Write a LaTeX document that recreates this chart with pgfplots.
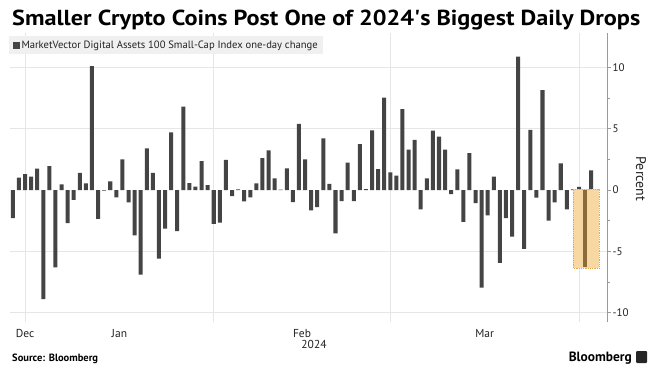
\documentclass[border=0pt]{standalone}
\usepackage{pgfplots}
\pgfplotsset{compat=1.18}
\usepackage{pgfplotstable}
\usepackage{fontspec}
\setmainfont{PT Sans}
\definecolor{barc}{HTML}{444444}
\definecolor{gridc}{HTML}{E6E6E6}
\definecolor{axisc}{HTML}{9A9A9A}
\definecolor{boxfill}{HTML}{F7D8A2}
\definecolor{boxdraw}{HTML}{E8A850}
\definecolor{brownbar}{HTML}{8C6B3B}
\definecolor{legfill}{HTML}{F0F0F0}
\definecolor{txt}{HTML}{222222}

\pgfplotstableread{
x y
-2 -2.3
-1 1.0
0 1.3
1 1.1
2 1.75
3 -8.9
4 1.95
5 -6.3
6 0.45
7 -2.7
8 -0.8
9 1.4
10 0.55
11 10.1
12 -2.35
13 -0.05
14 0.7
15 -0.6
16 2.5
17 -1.0
18 -3.7
19 -6.9
20 3.4
21 1.4
22 -5.6
23 -3.15
24 4.7
25 -3.35
26 6.8
27 0.57
28 0.27
29 2.36
30 0.4
31 -2.77
32 -2.65
33 2.45
34 -0.5
35 0.05
36 -0.92
37 -0.6
38 0.54
39 2.6
40 3.23
41 0.95
42 0.03
43 1.77
44 -0.98
45 5.4
46 2.5
47 -1.66
48 -1.39
49 4.2
50 0.49
51 -3.53
52 -0.9
53 2.23
54 -0.9
55 3.75
56 0.08
57 4.86
58 1.71
59 7.53
60 1.44
61 1.17
62 6.6
63 3.3
64 4.08
65 -1.58
66 0.95
67 4.84
68 4.35
69 3.3
70 -0.33
71 1.68
72 -2.6
73 3.0
74 -1.06
75 -7.96
76 -2.07
77 1.09
78 -5.95
79 -2.3
80 -3.8
81 10.87
82 -4.8
83 4.9
84 -0.62
85 8.15
86 -2.5
87 -1.0
88 2.17
89 -1.58
90 0.05
91 0.25
92 -6.28
93 1.6
}\bars

\begin{document}
\begin{tikzpicture}
\path[use as bounding box, fill=white] (0pt,0pt) rectangle (660pt,372pt);
\begin{axis}[
  at={(9.8pt,50pt)}, anchor=south west, scale only axis,
  width=597.4pt, height=289pt,
  xmin=-2.5, xmax=95.63, ymin=-10.76, ymax=12.8,
  axis y line*=right, axis x line*=bottom,
  x axis line style={draw=none},
  y axis line style={draw=axisc, line width=1.3pt},
  xtick={0,15.5,45.5,75.5}, xticklabels={Dec,Jan,Feb,Mar},
  xtick style={draw=none},
  xticklabel style={font=\fontsize{11.5}{12}\selectfont, text=txt},
  extra x ticks={0,31,60,91}, extra x tick labels={},
  extra x tick style={grid=major, major grid style={draw=gridc, line width=0.8pt}},
  ytick={-10,-5,0,5,10}, minor ytick={-7.5,-2.5,2.5,7.5},
  extra y ticks={-10,-5,5,10}, extra y tick labels={},
  extra y tick style={grid=major, major grid style={draw=gridc, line width=0.8pt}},
  tick align=outside, major tick length=3.5pt, minor tick length=2.5pt,
  ytick style={draw=axisc, line width=0.8pt},
  yticklabel style={font=\fontsize{11}{12}\selectfont, text=txt, anchor=west, xshift=-1.5pt},
  /pgf/number format/assume math mode=true,
  legend style={at={(0,1)}, anchor=north west, xshift=-0.8pt, yshift=-3pt,
    draw=none, fill=legfill, inner xsep=3.5pt, inner ysep=2.5pt,
    font=\fontsize{10.6}{12}\selectfont, text=txt},
  legend cell align=left,
]
\addplot[ybar, bar width=0.66, bar shift=0pt, fill=barc, draw=none,
  legend image code/.code={\fill[barc] (0pt,-3.4pt) rectangle (6.8pt,3.4pt);}]
  table[x=x,y=y] {\bars};
\addlegendentry{MarketVector Digital Assets 100 Small-Cap Index one-day change}
\addplot[fill=boxfill, draw=none, forget plot]
  coordinates {(90.06,0.08) (94.3,0.08) (94.3,-6.39) (90.06,-6.39)} -- cycle;
\addplot[ybar, bar width=0.66, bar shift=0pt, fill=brownbar, draw=none, forget plot]
  coordinates {(92,-6.28)};
\addplot[draw=boxdraw, densely dotted, line width=0.8pt, forget plot]
  coordinates {(90.06,0.08) (94.3,0.08) (94.3,-6.39) (90.06,-6.39)} -- cycle;
\end{axis}
\node[anchor=base west, inner sep=0pt, text=black] at (12pt,346pt)
  {\resizebox{628pt}{15.5pt}{\bfseries Smaller Crypto Coins Post One of 2024\textquotesingle s Biggest Daily Drops}};
\node[rotate=-90, font=\fontsize{14}{16}\selectfont, text=txt] at (641pt,193pt) {Percent};
\node[font=\fontsize{11.5}{12}\selectfont, text=txt] at (314pt,28pt) {2024};
\node[anchor=base west, inner sep=0pt, font=\bfseries\fontsize{10.5}{12}\selectfont, text=black] at (12pt,11pt) {Source: Bloomberg};
\node[anchor=base east, inner sep=0pt, text=black] at (632pt,11pt) {\resizebox{63pt}{!}{\bfseries Bloomberg}};
\fill[black!85, rounded corners=1pt] (636pt,9pt) rectangle (647pt,21pt);
\end{tikzpicture}
\end{document}
